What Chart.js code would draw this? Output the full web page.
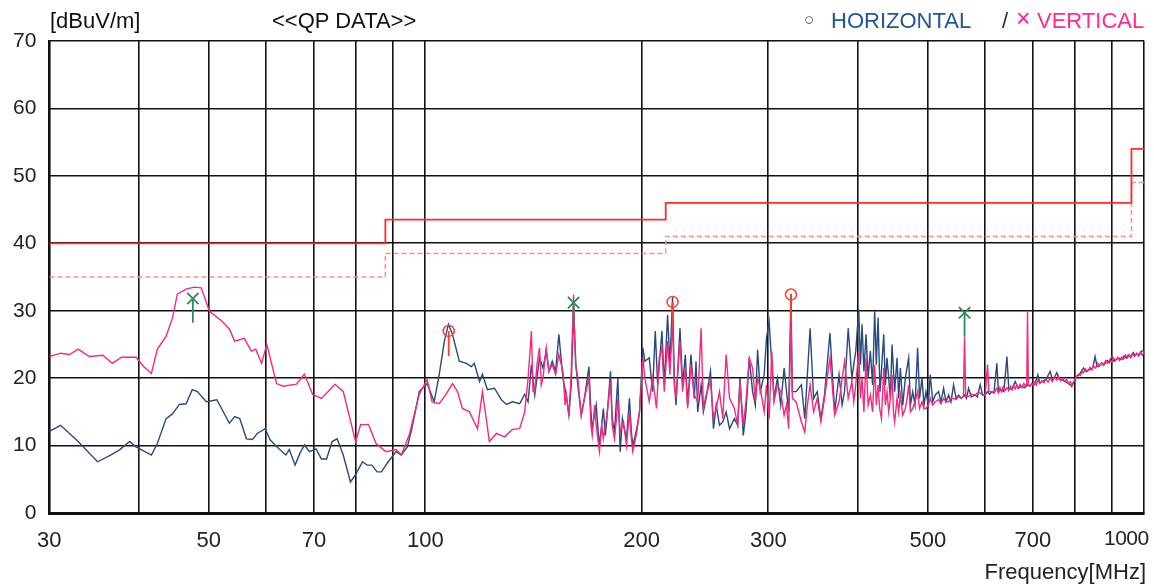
<!DOCTYPE html>
<html>
<head>
<meta charset="utf-8">
<script src="https://cdn.jsdelivr.net/npm/chart.js@4/dist/chart.umd.min.js"></script>
<style>
  html, body { margin: 0; padding: 0; background: #fff; overflow: hidden; }
  #wrap { position: relative; width: 1154px; height: 585px; }
  #wrap canvas { position: absolute; left: 0; top: 0; }
  .txt { position: absolute; font-family: "Liberation Sans", Arial, sans-serif; font-size: 22px; line-height: 22px; white-space: nowrap; color: #111; }
</style>
</head>
<body>
<div id="wrap">
  <canvas id="emiChart" width="1154" height="585"></canvas>
  <div class="txt" style="left:50px; top:10px;">[dBuV/m]</div>
  <div class="txt" style="left:272px; top:10px;">&lt;&lt;QP DATA&gt;&gt;</div>
  <div class="txt" style="left:804px; top:9px; color:#3c4a68; font-size:17px;">○</div>
  <div class="txt" style="left:831px; top:10px; color:#1f5599;">HORIZONTAL</div>
  <div class="txt" style="left:1002px; top:10px; color:#3a2a1a;">/</div>
  <div class="txt" style="left:1016px; top:7px; color:#ff2a8a; font-size:25px;">×</div>
  <div class="txt" style="left:1037px; top:10px; color:#ff2a8a;">VERTICAL</div>
  <div class="txt" id="lastTick" style="left:1104px; top:527px; font-size:21px; letter-spacing:-0.5px; color:#222;">1000</div>
  <div class="txt" style="right:8px; top:561px; color:#222;">Frequency[MHz]</div>
</div>
<script>
// axis ticks
const gridFreqs = [30, 40, 50, 60, 70, 80, 90, 100, 200, 300, 400, 500, 600, 700, 800, 900, 1000];
const labelFreqs = [30, 50, 70, 100, 200, 300, 500, 700];

// limit lines (QP limit and margin), values change at these frequencies
const limitFreqs = [30, 88, 216, 960, 1000];
const limitLevels = [40, 43.5, 46, 54, 54];
const marginLevels = [35, 38.5, 41, 49, 49];

// peak markers
const horizPeakFreqs = [107.8, 220.8, 322.6];
const horizPeakLevels = [27.0, 31.3, 32.4];
const horizPeakBases = [23.3, 27.5, 28.4];
const vertPeakFreqs = [47.5, 160.8, 562.5];
const vertPeakLevels = [31.8, 31.2, 29.7];
const vertPeakBases = [28.2, 27.5, 26.2];

// HORIZONTAL scan [MHz, dBuV/m]
const horizontal = [
  [30,12.1],[31.1,13],[32.9,10.6],[35,7.6],[36.5,8.6],[37.6,9.4],[38.8,10.6],[39.6,9.8],[41.6,8.6],[42.4,10.3],
  [43.6,14],[44.5,14.7],[45.5,16.1],[46.5,16.2],[47.4,18.3],[48.2,18],[49.6,16.5],[51.3,16.8],[53.4,13.3],[54.3,14.3],
  [55.2,14],[56.4,11],[57.5,10.9],[58.4,11.8],[59.9,12.5],[60.8,10.9],[62.2,9.8],[64,8.6],[64.7,9.4],[65.9,7.1],
  [66.9,8.8],[67.9,10.1],[69,9.1],[70.5,9.5],[71.7,8],[72.9,8],[74.2,10.6],[75.4,11],[76.9,8.6],[78.7,4.6],
  [80,5.7],[81.8,7.6],[83,7.1],[84.3,7.1],[85.7,6.1],[86.9,6.1],[88.8,7.6],[91.1,9.1],[92.6,8.6],[94.4,9.8],
  [95.8,12.5],[98.1,18],[100.6,19.2],[102.9,16.5],[104.6,20.6],[106.3,25.5],[107.7,28],[109.1,26.5],[111.5,22.5],[114.1,22.2],
  [115.9,21.7],[117,22.2],[119,19.5],[120.1,20.6],[122,18.3],[124.8,18.5],[127.6,16.8],[129.7,16.1],[132.2,16.5],[135.3,16.2],
  [137.5,17.6],[139,16.5],[140.5,22],[142,17.5],[143,20],[144.2,23],[145.8,21.5],[147.3,24],[148.6,21],[150.2,22.5],
  [151.8,21],[153.4,26.5],[155.4,20],[157.1,17.5],[158.4,14.5],[159.6,19],[160.8,30],[162,22],[163,19],[164.8,14.5],
  [166.5,17],[168.9,21.7],[170,15],[170.7,12.5],[172.9,16],[174,12],[174.7,10],[176.9,15.5],[178,11.5],[178.9,14],
  [181,21],[182,14],[183.3,12],[185.3,20],[186.7,9.1],[188,14],[188.7,13],[190.5,11],[192.3,17],[193.5,12],
  [194.4,10],[196.9,12.5],[198.6,15],[200.8,24.5],[202,22.5],[204.9,23],[207.1,18],[208.9,27],[210.5,19],[211.6,22],
  [213.4,27],[215,19],[217.3,29.4],[218.9,22],[220.8,32],[222,20],[223.2,16],[226.1,27.4],[228,19],[230,23.5],
  [231.7,16],[234.2,23.5],[236.7,17],[238,22.5],[239.3,15],[241.9,19],[243.7,15],[245.8,17],[249.3,21],[251.7,12.5],
  [253.9,16],[256.6,13],[259.3,13.5],[262.1,15],[265,12.5],[269.1,14],[272,13],[274,20],[276.9,11.5],[279.3,15],
  [282.3,23],[285.3,18],[287.8,16],[289.9,24.2],[292.4,18],[296.1,20.5],[298.3,26],[300.8,28.4],[303.4,22],[305.6,17],
  [308.9,20],[312.2,16],[315.6,21.5],[320.2,15],[322.6,32.5],[324,18],[327.9,18],[333.6,19],[337.2,14],[343,27.4],
  [346.9,17],[350.9,18],[355,14],[359.2,17.5],[365.5,26.7],[371.1,15],[376.3,20.5],[380,16],[383,18],[387.5,27.4],
  [392.1,20],[394.5,22],[397,24],[400.8,30.2],[403,22],[405.1,28],[407.5,21],[410.3,26.5],[413,20],[416,24],
  [419,19],[421.8,30],[424,22],[426.4,29],[429,18],[431,21],[434.2,26.5],[436.5,19],[438.8,23],[441.2,20],
  [443.5,17],[445.9,25],[449.7,18],[453.1,23],[455.5,17],[458,21.5],[461.5,16],[465.3,20],[470.3,23],[473,16],
  [476.4,18],[480,16],[484,24.5],[487,17],[490.8,20],[494,16],[497.1,18],[500.8,16],[504,20.5],[508,16.5],
  [512.1,17.5],[517.6,18],[521.5,16.5],[526,18.5],[530,16.5],[534.5,17.5],[538.5,16.5],[543.1,19],[547.5,17],[551.9,17.5],
  [557,17],[562.5,17.5],[566,17],[569.8,18.5],[575,17.2],[582,17.5],[586,17.2],[591.4,19],[596,17.5],[601,17.5],
  [605.5,18],[609.5,17.6],[613.9,18],[618,17.8],[623.8,22.2],[627,18],[633,18.3],[638,18],[644.3,23.2],[648,18.5],
  [655,18.3],[661.6,19.5],[668,18.5],[675.9,18.8],[682,18.6],[688.2,19],[693,18.8],[697.8,19.2],[704,19],[711.3,20.5],
  [716,19.3],[720.5,19.5],[730,19.8],[740,21],[746,19.6],[755.9,20.8],[762,19.8],[770,19.7],[776.3,19.5],[785,19.2],
  [793,18.8],[799,19.6],[805.7,20.3],[812,20.5],[823.1,21.5],[830,21],[840.9,21.3],[848,21.5],[854.4,23.2],[860,21.7],
  [866,21.8],[872.9,22.2],[880,22],[888,22.6],[895,22.3],[901.2,23.2],[908,22.5],[915,22.8],[922,23],[930.5,22.8],
  [938,23.3],[945,23],[950.4,23.4],[958,23.2],[965,23.8],[971,23.4],[978,23.6],[985,23.4],[991,24],[997,24],
  [1000,23.6]
];

// VERTICAL scan [MHz, dBuV/m]
const vertical = [
  [30,23.2],[31.1,23.7],[32,23.5],[32.9,24.3],[34.1,23.2],[35.6,23.4],[36.7,22.2],[37.8,23.1],[39.6,23.1],[40.6,21.7],
  [41.6,20.7],[42.4,24.3],[43.6,26.2],[44.5,28.9],[45.2,32.5],[46.5,33.2],[47.7,33.5],[48.8,33.4],[50.1,29.9],[52.2,28.4],
  [53.4,27.3],[54.3,25.5],[56,25.9],[57.3,24],[58.1,24.3],[59.2,22.2],[60.2,25],[62.1,19.2],[63.4,18.8],[66.2,19.1],
  [67.9,20.6],[69.7,17.6],[71.7,17],[74.9,19.1],[76.9,18],[80,10.6],[81.3,13.1],[83.4,13.1],[85.4,10.3],[88.2,9.1],
  [91.1,9.4],[92.6,8.6],[95,11.6],[98.1,17.6],[100.6,19.8],[102.2,16.5],[104.6,16.2],[107,17.7],[109.1,19.2],[110.9,18],
  [112.6,15.5],[115.2,15],[118.2,12.5],[120.1,18],[122.8,10.6],[125.6,11.8],[128.9,11.3],[132.2,12.4],[135.3,12.5],[137.5,15],
  [139,20],[140.5,27],[141.2,18],[142,18],[143,22],[144.2,24.5],[145,19],[145.8,20],[147.3,24.5],[148.6,21],
  [150.2,22],[151.8,20.5],[153.4,23.5],[155.4,21],[156.5,16],[157.1,17.5],[158.4,14.5],[159.5,20],[160.8,32.4],[161.8,22],
  [163,20],[164.8,14.5],[166.5,17],[168.9,20],[170,13],[170.7,11.5],[172,16],[172.9,13],[174.7,9.1],[176,13],
  [176.9,11],[178.9,14.5],[181,19.5],[182,13],[183.3,11],[184.5,14],[185.3,17],[186.7,12],[188.7,13.5],[190.5,10],
  [192.3,15],[193.5,11],[194.4,9.1],[196.9,12],[198.6,15],[200.8,23],[202,20],[204.9,16.5],[207.1,20],[208.9,17],
  [209.7,15.5],[211.6,23],[213.4,24.5],[215,18],[217.3,25.5],[218.9,20.5],[220.8,28.4],[222,19],[223.2,17],[226.1,25.5],
  [228,18],[230,21.5],[231.7,15.5],[234.2,22],[236.7,17.5],[239.3,16.5],[241.9,27.4],[243.7,15.5],[245.8,17.5],[249.3,19.5],
  [251.7,14],[253.9,15.5],[256.6,18],[259.3,14],[262.1,23.5],[265,17],[269.1,15.5],[272,13],[274,19.5],[276.9,13],
  [279.3,16.5],[282.3,23],[285.3,21.5],[287.8,16.5],[289.9,20],[292.4,18.5],[296.1,15],[298.3,19],[300.8,14],[303.4,24],
  [305.6,16.5],[308.9,19],[312.2,18],[315.6,14.5],[318,16],[320.2,12.5],[322.6,29],[324,17],[327.9,16.5],[333.6,13.5],
  [337.2,12],[340,16],[343,19],[346.9,15],[350.9,17],[355,13.5],[359.2,17],[365.5,23],[371.1,14.5],[376.3,16.5],
  [383,22.5],[387.5,17],[392.1,19.5],[394.5,16.5],[397,19],[400.8,24],[403,17],[405.1,20],[407.5,15],[410.3,23],
  [413,16],[416,17.5],[419,15],[421.8,22],[424,16],[426.4,19],[428.5,15.5],[431,14],[434.2,21.5],[436.5,16],
  [438.8,18],[441.2,15],[443.5,17],[445.9,20.5],[448,15],[449.7,13.5],[453.1,17],[455.5,15],[458,17.5],[461.5,14.5],
  [465.3,15.5],[468,17],[470.3,19],[473,15],[476.4,15.5],[480,16.5],[484,18],[487,15.5],[490.8,16.5],[494,15.5],
  [497.1,15.5],[500.8,16],[504,17],[508,16],[512.1,16.5],[517.6,16.8],[521.5,16.2],[526,17],[530,16.5],[534.5,16.5],
  [538.5,17],[543.1,17],[547.5,16.8],[551.9,17.3],[556,17],[560.5,17.3],[562.5,26.2],[564.5,17.3],[569.8,17.3],[575,17.6],
  [582,17.5],[586,17.8],[591.4,17.8],[596,17.5],[601,17.5],[605.5,22],[608,18],[613.9,18],[618,17.8],[623.8,18.5],
  [627,17.8],[630,18.6],[633,18],[637,18.8],[641,18.2],[644.3,18.6],[648,18.1],[652,18.8],[655,18.3],[658,19],
  [661.6,18.4],[665,19],[668,18.5],[672,19.1],[675.9,18.6],[680,19.2],[684,18.7],[686.5,19.3],[688.2,30],[690,19],
  [693,18.8],[697.8,19.2],[701,18.9],[705,19.5],[708,19],[711.3,19.7],[716,19.2],[720.5,19.6],[725,19.3],[730,19.9],
  [735,19.4],[740,20],[745,19.5],[750,20.2],[755.9,19.7],[760,20.3],[765,19.6],[770,20],[776.3,19.5],[780,19.8],
  [785,19.2],[790,19.5],[793,18.8],[797,19.4],[801,19.8],[805.7,20.3],[810,20.6],[815,20.4],[820,21],[823.1,20.8],
  [828,21.4],[834,21],[840.9,21.6],[846,21.2],[850,21.8],[856,21.5],[862,22.2],[866,21.8],[872.9,22.3],[878,21.9],
  [884,22.6],[890,22.2],[895,22.7],[901.2,22.4],[906,23],[912,22.6],[918,23.1],[924,22.6],[930.5,23.1],[936,22.8],
  [942,23.4],[948,23],[953,23.5],[958,23],[964,23.6],[970,23.2],[976,23.7],[982,23.3],[988,23.9],[994,23.4],
  [1000,24]
];

const FONT = '"Liberation Sans", Arial, sans-serif';

function toPoints(pairs) {
    return pairs.map(p => ({ x: p[0], y: p[1] }));
}

function stems(freqs, tops, bases) {
    const pts = [];
    freqs.forEach((f, i) => {
        pts.push({ x: f, y: tops[i] }, { x: f, y: bases[i] }, { x: f, y: null });
    });
    return pts;
}

const ctx = document.getElementById('emiChart').getContext('2d');
const myChart = new Chart(ctx, {
    type: 'line',
    data: {
        datasets: [
            {
                label: 'vert peaks',
                data: vertPeakFreqs.map((f, i) => ({ x: f, y: vertPeakLevels[i] })),
                showLine: false,
                pointStyle: 'crossRot',
                pointRadius: 8,
                borderColor: '#2e8b57',
                borderWidth: 1.8,
                order: 0
            },
            {
                label: 'horiz peaks',
                data: horizPeakFreqs.map((f, i) => ({ x: f, y: horizPeakLevels[i] })),
                showLine: false,
                pointStyle: 'circle',
                pointRadius: 5.5,
                borderColor: '#ff3b30',
                backgroundColor: 'rgba(0,0,0,0)',
                borderWidth: 1.5,
                order: 0
            },
            {
                label: 'vert stems',
                data: stems(vertPeakFreqs, vertPeakLevels, vertPeakBases),
                borderColor: '#2e8b57',
                borderWidth: 1.8,
                pointRadius: 0,
                spanGaps: false,
                order: 1
            },
            {
                label: 'horiz stems',
                data: stems(horizPeakFreqs, horizPeakLevels, horizPeakBases),
                borderColor: '#ff3b30',
                borderWidth: 1.8,
                pointRadius: 0,
                spanGaps: false,
                order: 1
            },
            {
                label: 'VERTICAL',
                data: toPoints(vertical),
                borderColor: '#f5297f',
                borderWidth: 1.4,
                pointRadius: 0,
                tension: 0,
                order: 2
            },
            {
                label: 'HORIZONTAL',
                data: toPoints(horizontal),
                borderColor: '#284a7e',
                borderWidth: 1.4,
                pointRadius: 0,
                tension: 0,
                order: 3
            },
            {
                label: 'Limit',
                data: limitFreqs.map((f, i) => ({ x: f, y: limitLevels[i] })),
                borderColor: '#ff2a2a',
                borderWidth: 1.8,
                pointRadius: 0,
                stepped: 'before',
                order: 4
            },
            {
                label: 'Margin',
                data: limitFreqs.map((f, i) => ({ x: f, y: marginLevels[i] })),
                borderColor: '#ff8c8c',
                borderWidth: 1.5,
                borderDash: [5, 3],
                pointRadius: 0,
                stepped: 'before',
                order: 4
            }
        ]
    },
    options: {
        responsive: false,
        animation: false,
        devicePixelRatio: 1,
        layout: { padding: { left: 0, right: 0, top: 41, bottom: 31 } },
        plugins: { legend: { display: false }, tooltip: { enabled: false } },
        scales: {
            x: {
                type: 'logarithmic',
                min: 30,
                max: 1000,
                afterBuildTicks: (axis) => {
                    axis.ticks = gridFreqs.map(v => ({ value: v }));
                },
                ticks: {
                    autoSkip: false,
                    maxRotation: 0,
                    padding: 2,
                    color: '#222',
                    font: { family: FONT, size: 22, lineHeight: 1 },
                    callback: (value) => labelFreqs.includes(value) ? String(value) : ''
                },
                grid: {
                    color: '#111',
                    lineWidth: 1.6,
                    drawTicks: true,
                    tickLength: 15,
                    tickColor: 'rgba(0,0,0,0)'
                },
                border: { color: '#111', width: 3 }
            },
            y: {
                min: 0,
                max: 70,
                ticks: {
                    stepSize: 10,
                    padding: 13,
                    color: '#222',
                    font: { family: FONT, size: 21 }
                },
                grid: { color: '#111', lineWidth: 1.6, drawTicks: false },
                border: { color: '#111', width: 2 }
            }
        }
    }
});
</script>
</body>
</html>
